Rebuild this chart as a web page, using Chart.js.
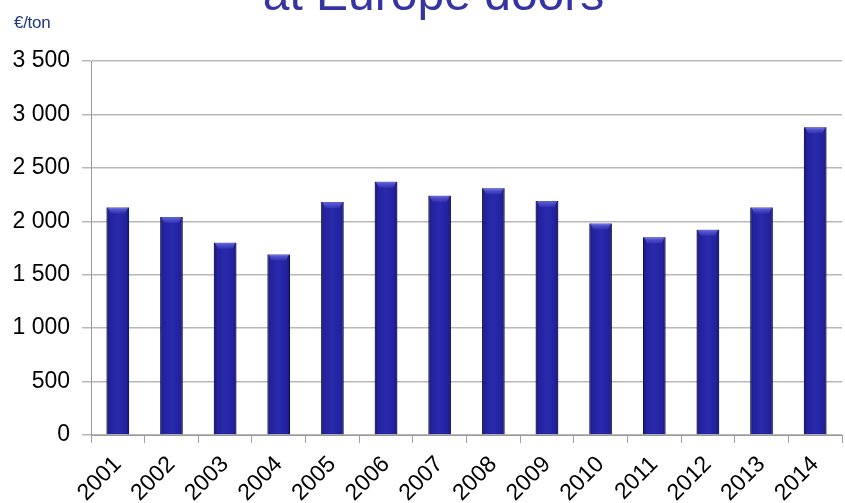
<!DOCTYPE html>
<html>
<head>
<meta charset="utf-8">
<script src="https://cdn.jsdelivr.net/npm/chart.js@4"></script>
<style>
  html, body { margin: 0; padding: 0; background: #fff; overflow: hidden; }
  #wrap { position: relative; width: 845px; height: 503px; }
  #title {
    position: absolute; left: 0; top: -30px; width: 845px; height: 48px;
    text-align: center; padding-left: 22px; box-sizing: border-box;
    font: 48px/48px "Liberation Sans", Arial, sans-serif; color: #3434a2;
    white-space: nowrap;
  }
  #unit {
    position: absolute; left: 14px; top: 14px;
    font: 17px/18px "Liberation Sans", Arial, sans-serif; color: #1f3a80;
    letter-spacing: -0.3px;
  }
  canvas { position: absolute; left: 0; top: 0; }
</style>
</head>
<body>
<div id="wrap">
  <canvas id="c" width="845" height="503"></canvas>
  <div id="title">at Europe doors</div>
  <div id="unit">€/ton</div>
</div>
<script>
const years = ['2001', '2002', '2003', '2004', '2005', '2006', '2007',
               '2008', '2009', '2010', '2011', '2012', '2013', '2014'];
const prices = [2130, 2040, 1800, 1690, 2180, 2370, 2240,
                2310, 2190, 1980, 1850, 1920, 2130, 2880];

const FONT = '"Liberation Sans", Arial, sans-serif';

function fmtThousands(v) {
  return String(v).replace(/\B(?=(\d{3})+(?!\d))/g, ' ');
}

// shading over each bar: dark edges, soft lighter bevel on top
const barShadePlugin = {
  id: 'bar-shade',
  afterDatasetsDraw(chart) {
    const ctx = chart.ctx;
    const meta = chart.getDatasetMeta(0);
    ctx.save();
    for (const bar of meta.data) {
      const left = bar.x - bar.width / 2, right = bar.x + bar.width / 2;
      const g = ctx.createLinearGradient(left, 0, right, 0);
      g.addColorStop(0, 'rgba(8,8,60,0.5)');
      g.addColorStop(0.15, 'rgba(8,8,60,0.08)');
      g.addColorStop(0.5, 'rgba(80,80,220,0.1)');
      g.addColorStop(0.85, 'rgba(8,8,60,0.08)');
      g.addColorStop(1, 'rgba(8,8,60,0.5)');
      ctx.fillStyle = g;
      ctx.fillRect(left, bar.y, bar.width, bar.base - bar.y);
      // top bevel
      const tg = ctx.createLinearGradient(0, bar.y, 0, bar.y + 6);
      tg.addColorStop(0, 'rgba(120,120,240,0.75)');
      tg.addColorStop(1, 'rgba(120,120,240,0.15)');
      ctx.fillStyle = tg;
      ctx.beginPath();
      ctx.moveTo(left + 1, bar.y);
      ctx.lineTo(right - 1, bar.y);
      ctx.lineTo(right - 4, bar.y + 6);
      ctx.lineTo(left + 4, bar.y + 6);
      ctx.closePath();
      ctx.fill();
    }
    ctx.restore();
  },
};

new Chart(document.getElementById('c'), {
  type: 'bar',
  data: {
    labels: years,
    datasets: [{
      data: prices,
      backgroundColor: '#2525a8',
      borderColor: '#15156e',
      borderWidth: 1,
      categoryPercentage: 1,
      barPercentage: 0.42,
    }],
  },
  options: {
    responsive: false,
    animation: false,
    devicePixelRatio: 1,
    layout: { padding: { top: 61, right: 3, left: 0, bottom: 0 } },
    scales: {
      x: {
        afterFit: (s) => { s.height = 68; },
        grid: {
          drawOnChartArea: false,
          drawTicks: true,
          tickLength: 8,
          color: '#a0a0a0',
        },
        border: { color: '#9a9a9a' },
        ticks: {
          color: '#000',
          font: { family: FONT, size: 23 },
          minRotation: 45,
          maxRotation: 45,
          padding: 8,
        },
      },
      y: {
        min: 0,
        max: 3500,
        afterFit: (s) => { s.width = 91; },
        grid: { color: '#b8b8b8', tickLength: 9, lineWidth: 1.5 },
        border: { color: '#9a9a9a' },
        ticks: {
          stepSize: 500,
          color: '#000',
          font: { family: FONT, size: 23 },
          padding: 12,
          callback: (v) => fmtThousands(v),
        },
      },
    },
    plugins: {
      legend: { display: false },
      tooltip: { enabled: false },
    },
  },
  plugins: [barShadePlugin],
});
</script>
</body>
</html>
